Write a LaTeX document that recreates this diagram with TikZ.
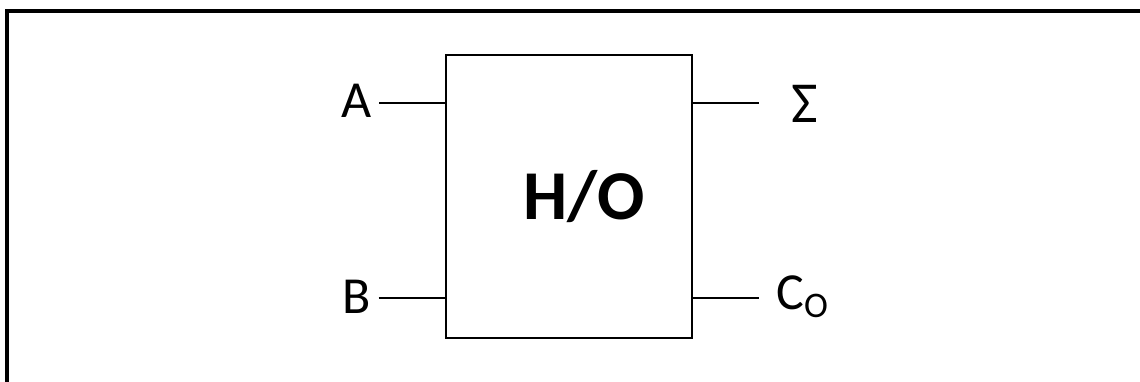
\documentclass[tikz,border=0pt]{standalone}
\usepackage{fontspec}
\setmainfont{Carlito}
\usetikzlibrary{positioning, calc}

\begin{document}
\begin{tikzpicture}[
        x=0.5pt, y=-0.5pt,
        frame/.style={line width=2pt},
        block/.style={rectangle, draw, line width=1.2pt, minimum width=123pt, minimum height=141.5pt, inner sep=0pt},
        pin/.style={line width=1.1pt},
        lbl/.style={font=\fontsize{26}{30}\selectfont, inner sep=3.5pt}
    ]
    \useasboundingbox (0,0) rectangle (1140,381);

    % Frame
    \draw[frame] (7,400) -- (7,11) -- (1160,11);

    % Block
    \node[block] (ho) at (568.7,196.2) {};
    \node[font=\fontsize{35}{40}\selectfont\bfseries] (holabel) at (584,197) {H/O};

    % Inputs
    \node[lbl] (a) at (357,101) {A};
    \node[lbl] (b) at (357,297) {B};
    \draw[pin] (a.east |- 0,103) -- (ho.west |- 0,103);
    \draw[pin] (b.east |- 0,298) -- (ho.west |- 0,298);

    % Outputs
    \coordinate (sigend) at (759,103);
    \coordinate (coend) at (759,298);
    \node[lbl, font=\fontsize{29}{32}\selectfont] (sig) at (805,104) {Σ};
    \node[lbl, anchor=west, inner sep=0pt] (co) at (776,297) {C\raisebox{-4pt}{\fontsize{18}{20}\selectfont O}};
    \draw[pin] (sigend -| ho.east) -- (sigend);
    \draw[pin] (coend -| ho.east) -- (coend);
\end{tikzpicture}
\end{document}
